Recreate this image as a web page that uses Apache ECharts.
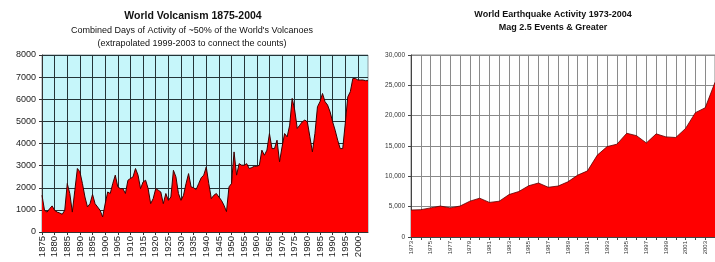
<!DOCTYPE html>
<html>
<head>
<meta charset="utf-8">
<script src="https://cdn.jsdelivr.net/npm/echarts@6/dist/echarts.min.js"></script>
<style>
html,body{margin:0;padding:0;background:#fff;}
#c{width:715px;height:262px;}
</style>
</head>
<body>
<div id="c"></div>
<script>
// ---- Data ----
const volcanoStartYear = 1875;
const volcanoDays = [
  1660, 980, 900, 1050, 1180, 980, 900, 860, 800, 980,
  2190, 1740, 900, 1890, 2870, 2720, 2190, 1580, 1130, 1280,
  1700, 1280, 1130, 980, 680, 1280, 1810, 1740, 2190, 2570,
  2040, 1960, 1960, 1740, 2340, 2420, 2490, 2870, 2570, 1960,
  2260, 2340, 1960, 1280, 1510, 1960, 1890, 1810, 1280, 1740,
  1430, 1580, 2790, 2490, 1740, 1430, 1660, 2190, 2640, 2040,
  2000, 1920, 2190, 2450, 2570, 2940, 2190, 1510, 1660, 1740,
  1580, 1430, 1210, 920, 2040, 2190, 3620, 2570, 3090, 3020,
  3020, 3090, 2870, 2910, 2970, 2970, 3020, 3700, 3470, 3700,
  4450, 3770, 3770, 4150, 3170, 3850, 4450, 4300, 4830, 6040,
  5510, 4680, 4830, 4980, 5060, 4980, 4300, 3620, 4450, 5660,
  5890, 6260, 5890, 5740, 5430, 4980, 4600, 4150, 3770, 3770,
  4910, 6110, 6340, 6940, 6940, 6870, 6870, 6870, 6840, 6840
];
const volcanoYears = volcanoDays.map((_, i) => String(volcanoStartYear + i));

const quakeStartYear = 1973;
const quakeEvents = [
  4450, 4500, 4800, 5100, 4800, 5100, 5900, 6400, 5700, 5900,
  7000, 7500, 8450, 8900, 8200, 8400, 9100, 10200, 10900, 13500,
  14900, 15300, 17100, 16700, 15500, 17000, 16500, 16400, 17900, 20500,
  21300, 25500
];
const quakeYears = quakeEvents.map((_, i) => String(quakeStartYear + i));

const volcanoTitle = 'World Volcanism 1875-2004';
const volcanoSub1 = "Combined Days of Activity of ~50% of the World's Volcanoes";
const volcanoSub2 = '(extrapolated 1999-2003 to connect the counts)';
const quakeTitle1 = 'World Earthquake Activity 1973-2004';
const quakeTitle2 = 'Mag 2.5 Events & Greater';

// ---- Chart ----
const FONT = '"Liberation Sans", Arial, sans-serif';
const chart = echarts.init(document.getElementById('c'), null, {renderer: 'canvas'});

function txt(text, x, y, size, bold) {
  return {
    type: 'text', x: x, y: y, silent: true,
    style: {
      text: text, fill: '#111',
      font: (bold ? 'bold ' : '') + size + 'px ' + FONT,
      align: 'center', verticalAlign: 'middle'
    }
  };
}

chart.setOption({
  animation: false,
  backgroundColor: '#ffffff',
  graphic: [
    txt(volcanoTitle, 193, 16, 10.5, true),
    txt(volcanoSub1, 192, 31, 9, false),
    txt(volcanoSub2, 192, 44, 9, false),
    txt(quakeTitle1, 553, 15, 9, true),
    txt(quakeTitle2, 553, 28, 9, true)
  ],
  grid: [
    {left: 42, top: 55, width: 326, height: 177, show: true,
     backgroundColor: '#C6F6FA', borderColor: '#8a9a9e', borderWidth: 1},
    {left: 411, top: 55, width: 309, height: 182, show: true,
     backgroundColor: '#ffffff', borderColor: '#888', borderWidth: 1}
  ],
  xAxis: [
    {type: 'category', gridIndex: 0, data: volcanoYears, boundaryGap: false,
     axisLine: {lineStyle: {color: '#333', width: 1}},
     axisTick: {show: true, interval: 4, length: 3, lineStyle: {color: '#333'}},
     axisLabel: {interval: 4, rotate: 90, margin: 4, color: '#222',
                 fontFamily: FONT, fontSize: 9.5},
     splitLine: {show: true, interval: 4, lineStyle: {color: '#243438', width: 1}}},
    {type: 'category', gridIndex: 1, data: quakeYears, boundaryGap: false,
     axisLine: {lineStyle: {color: '#444', width: 1}},
     axisTick: {show: true, interval: 0, length: 3, lineStyle: {color: '#444'}},
     axisLabel: {interval: 1, rotate: 90, margin: 4, color: '#333',
                 fontFamily: FONT, fontSize: 6},
     splitLine: {show: true, interval: 0, lineStyle: {color: '#8a8a8a', width: 1}}}
  ],
  yAxis: [
    {type: 'value', gridIndex: 0, min: 0, max: 8000, interval: 1000,
     axisLine: {show: true, lineStyle: {color: '#333'}},
     axisTick: {show: true, length: 3, lineStyle: {color: '#333'}},
     axisLabel: {margin: 6, color: '#222', fontFamily: FONT, fontSize: 9,
                 formatter: v => String(v)},
     splitLine: {show: true, lineStyle: {color: '#243438', width: 1}}},
    {type: 'value', gridIndex: 1, min: 0, max: 30000, interval: 5000,
     axisLine: {show: true, lineStyle: {color: '#444'}},
     axisTick: {show: true, length: 3, lineStyle: {color: '#444'}},
     axisLabel: {margin: 6, color: '#333', fontFamily: FONT, fontSize: 6.5,
                 formatter: v => v.toLocaleString('en-US')},
     splitLine: {show: true, lineStyle: {color: '#8a8a8a', width: 1}}}
  ],
  series: [
    {type: 'line', xAxisIndex: 0, yAxisIndex: 0, data: volcanoDays,
     symbol: 'none', smooth: false,
     lineStyle: {color: '#3a0000', width: 1},
     areaStyle: {color: '#ff0000', opacity: 1}},
    {type: 'line', xAxisIndex: 1, yAxisIndex: 1, data: quakeEvents,
     symbol: 'none', smooth: false,
     lineStyle: {color: '#5a0000', width: 0.8},
     areaStyle: {color: '#ff0000', opacity: 1}}
  ]
});
</script>
</body>
</html>
